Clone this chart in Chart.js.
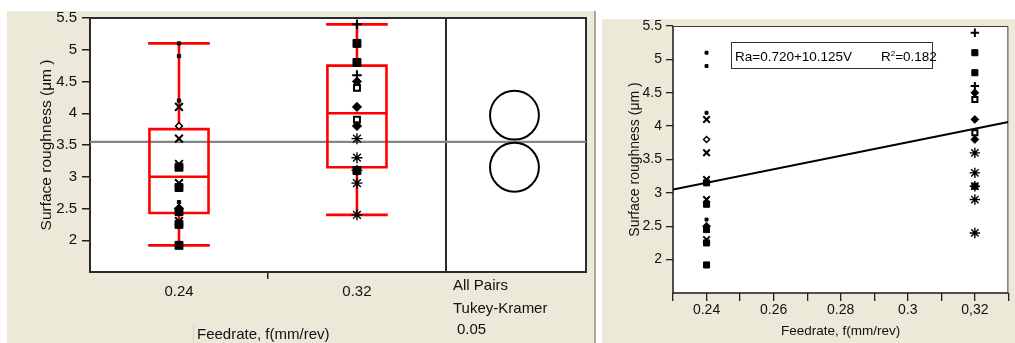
<!DOCTYPE html>
<html>
<head>
<meta charset="utf-8">
<title>Surface roughness vs feed rate</title>
<script src="https://cdn.jsdelivr.net/npm/chart.js@4.4.1/dist/chart.umd.min.js"></script>
<style>
  html, body { margin: 0; padding: 0; background: #fff; width: 1015px; height: 343px; overflow: hidden;
    font-family: "Liberation Sans", Arial, Helvetica, sans-serif; }
  .panel { position: absolute; background: #ECE9D8; }
  #leftPanel { left: 7px; top: 11px; width: 587px; height: 332px; border-right: 2px solid #ABA796; }
  #rightPanel { left: 602px; top: 19px; width: 413px; height: 324px; }
  canvas { position: absolute; top: 0; }
  #boxChart { left: 7px; }
  #fitChart { left: 602px; }
  .txt { position: absolute; color: #111; font-size: 15px; line-height: 15px; white-space: nowrap; }
  #sep { position: absolute; left: 193px; top: 325px; width: 1px; height: 18px; background: #D6D2C2; }
  #fitBox { position: absolute; left: 731px; top: 42px; width: 200px; height: 25px; border: 1px solid #333;
    background: #fff; }
  .fitTxt { position: absolute; color: #000; font-size: 13.5px; line-height: 13.5px; white-space: nowrap; top: 50px; }
  .fitTxt sup { font-size: 8px; vertical-align: 5px; line-height: 0; }
</style>
</head>
<body>
<div class="panel" id="leftPanel"></div>
<div class="panel" id="rightPanel"></div>
<canvas id="boxChart" width="587" height="343"></canvas>
<canvas id="fitChart" width="413" height="343"></canvas>

<div id="sep"></div>
<div class="txt" style="left:197px; top:326px;">Feedrate, f(mm/rev)</div>
<div class="txt" style="left:453px; top:277px;">All Pairs</div>
<div class="txt" style="left:453px; top:300px;">Tukey-Kramer</div>
<div class="txt" style="left:457px; top:321px;">0.05</div>

<div id="fitBox"></div>
<div class="fitTxt" id="fitEq" style="left:735px;"></div>
<div class="fitTxt" id="fitR2" style="left:881px;"></div>

<script>
// Feed rate levels
const feedLabels = ['0.24', '0.32'];
const feedValues = [0.24, 0.32];

// Surface roughness Ra (µm), one inner array per feed rate [0.24, 0.32], split by marker group
const dotRa = [[5.1, 4.9, 4.2, 2.6], []];
const crossRa = [[4.1, 3.6, 3.2, 2.9, 2.3], []];
const hollowDiamondRa = [[3.8], []];
const diamondRa = [[2.5], [4.5, 4.1, 3.8]];
const squareRa = [[3.15, 2.83, 2.45, 2.25, 1.92], [5.1, 4.8, 3.1]];
const plusRa = [[], [5.4, 4.6]];
const openSquareRa = [[], [4.4, 3.9]];
const starRa = [[], [3.6, 3.3, 3.1, 2.9, 2.4]];

// Box plot quantiles per feed rate
const boxQ1 = [2.43, 3.15];
const boxMedian = [3.0, 4.0];
const boxQ3 = [3.75, 4.75];

// Group means and comparison circle radii (µm), grand mean
const groupMean = [3.15, 3.97];
const circleRadius = [0.385, 0.385];
const grandMean = 3.55;

// Axis ticks
const yTicks = [2, 2.5, 3, 3.5, 4, 4.5, 5, 5.5];
const fitTickValues = [0.24, 0.26, 0.28, 0.30, 0.32];
const fitTickLabels = ['0.24', '0.26', '0.28', '0.3', '0,32'];

// Linear fit Ra = a + b·f
const fitIntercept = 0.720;
const fitSlope = 10.125;
const fitR2 = 0.182;

Chart.defaults.font.family = '"Liberation Sans", Arial, Helvetica, sans-serif';
Chart.defaults.color = '#111';
Chart.defaults.animation = false;

// marker look per group: [radius in box view, radius in fit view]
const markerGroups = [
  { ra: dotRa,           style: 'rect',     r: [2.3, 2.1], fill: '#000', bw: 1 },
  { ra: crossRa,         style: 'crossRot', r: [5.5, 4.6], fill: '#000', bw: 2 },
  { ra: hollowDiamondRa, style: 'rectRot',  r: [3.4, 3.0], fill: '#fff', bw: 1.5 },
  { ra: diamondRa,       style: 'rectRot',  r: [4.6, 3.9], fill: '#000', bw: 1 },
  { ra: squareRa,        style: 'rect',     r: [5.6, 4.3], fill: '#000', bw: 1 },
  { ra: plusRa,          style: 'cross',    r: [4.8, 4.2], fill: '#000', bw: 2 },
  { ra: openSquareRa,    style: 'rect',     r: [4.2, 3.6], fill: '#fff', bw: 2 },
  { ra: starRa,          style: 'star',     r: [5.5, 5.2], fill: '#000', bw: 1.4 }
];

function pointsFor(values, xs) {
  const out = [];
  values.forEach((arr, i) => arr.forEach(v => out.push({ x: xs[i], y: v })));
  return out;
}

function markerDatasets(xs, side) {
  return markerGroups.map(g => ({
    type: 'scatter',
    data: pointsFor(g.ra, xs),
    pointStyle: g.style,
    pointRadius: g.r[side],
    pointBackgroundColor: g.fill,
    pointBorderColor: '#000',
    pointBorderWidth: g.bw,
    clip: false,
    order: 0
  }));
}

function groupValues(i) {
  return markerGroups.flatMap(g => g.ra[i]);
}

// Outline of one box with median, whiskers and caps; null y breaks the path
function boxOutline(i) {
  const c = i + 1, w = 0.166;
  const vals = groupValues(i);
  const lo = Math.min(...vals), hi = Math.max(...vals);
  const gap = () => ({ x: c, y: null });
  return [
    { x: c - w, y: boxQ1[i] }, { x: c + w, y: boxQ1[i] }, { x: c + w, y: boxQ3[i] },
    { x: c - w, y: boxQ3[i] }, { x: c - w, y: boxQ1[i] }, gap(),
    { x: c - w, y: boxMedian[i] }, { x: c + w, y: boxMedian[i] }, gap(),
    { x: c, y: boxQ3[i] }, { x: c, y: hi }, gap(),
    { x: c, y: boxQ1[i] }, { x: c, y: lo }, gap(),
    { x: c - w, y: hi }, { x: c + w, y: hi }, gap(),
    { x: c - w, y: lo }, { x: c + w, y: lo }
  ];
}

const boxXMin = 0.5, boxXMax = 3.287, circleX = 2.885, panelDivider = 2.5;

const boxFrame = {
  id: 'boxFrame',
  beforeDraw(chart) {
    const { ctx, chartArea: a } = chart;
    ctx.save();
    ctx.fillStyle = '#fff';
    ctx.fillRect(a.left, a.top, a.width, a.height);
    ctx.restore();
  },
  beforeDatasetsDraw(chart) {
    const { ctx, chartArea: a, scales: { x } } = chart;
    ctx.save();
    ctx.strokeStyle = '#2a2a2a';
    ctx.lineWidth = 2;
    ctx.strokeRect(a.left, a.top, a.width, a.height);
    const xd = Math.round(x.getPixelForValue(panelDivider));
    ctx.beginPath();
    ctx.moveTo(xd, a.top);
    ctx.lineTo(xd, a.bottom);
    ctx.stroke();
    ctx.restore();
  }
};

const redLine = {
  type: 'line', borderColor: '#FF0000', borderWidth: 2.6, pointRadius: 0, fill: false,
  tension: 0, spanGaps: false, borderJoinStyle: 'miter', borderCapStyle: 'square', order: 2
};

new Chart(document.getElementById('boxChart'), {
  type: 'scatter',
  data: {
    datasets: [
      ...markerDatasets([1, 2], 0),
      {
        type: 'scatter',
        data: groupMean.map(m => ({ x: circleX, y: m })),
        pointStyle: 'circle',
        pointRadius: ctx => {
          const ys = ctx.chart.scales.y;
          const i = ctx.dataIndex;
          if (!ys) return 24;
          return Math.abs(ys.getPixelForValue(groupMean[i]) - ys.getPixelForValue(groupMean[i] + circleRadius[i]));
        },
        pointBackgroundColor: 'rgba(0,0,0,0)',
        pointBorderColor: '#000',
        pointBorderWidth: 2,
        clip: false,
        order: 1
      },
      Object.assign({ data: boxOutline(0) }, redLine),
      Object.assign({ data: boxOutline(1) }, redLine),
      {
        type: 'line',
        data: [{ x: boxXMin, y: grandMean }, { x: boxXMax, y: grandMean }],
        borderColor: '#858585', borderWidth: 2.2, pointRadius: 0, fill: false, order: 3
      }
    ]
  },
  options: {
    responsive: false,
    maintainAspectRatio: false,
    events: [],
    layout: { padding: { top: 18, right: 8, left: 0, bottom: 0 } },
    plugins: { legend: { display: false }, tooltip: { enabled: false } },
    scales: {
      x: {
        type: 'linear', min: boxXMin, max: boxXMax,
        afterBuildTicks: s => { s.ticks = [1, 1.5, 2].map(v => ({ value: v })); },
        afterFit: s => { s.height = 71; },
        ticks: {
          callback: v => feedLabels[v - 1] ?? '',
          font: { size: 15 }, padding: 4, maxRotation: 0, autoSkip: false, color: '#111'
        },
        grid: {
          drawOnChartArea: false, tickLength: 7, lineWidth: 1.5,
          color: c => (c.tick && c.tick.value === 1.5) ? '#222' : 'rgba(0,0,0,0)'
        },
        border: { display: false }
      },
      y: {
        type: 'linear', min: 1.5, max: 5.5,
        afterBuildTicks: s => { s.ticks = yTicks.map(v => ({ value: v })); },
        afterFit: s => { s.width = 83; },
        ticks: { callback: v => String(v), font: { size: 15 }, padding: 5, color: '#111' },
        grid: { drawOnChartArea: false, tickLength: 8, lineWidth: 1.5, color: '#222' },
        border: { display: false },
        title: {
          display: true, text: 'Surface roughness (μm )', color: '#111',
          font: { size: 15.5 }, padding: { top: 30, bottom: 0 }
        }
      }
    }
  },
  plugins: [boxFrame]
});

const fitFrame = {
  id: 'fitFrame',
  beforeDraw(chart) {
    const { ctx, chartArea: a } = chart;
    ctx.save();
    ctx.fillStyle = '#fff';
    ctx.fillRect(a.left, a.top, a.width, a.height);
    ctx.restore();
  },
  beforeDatasetsDraw(chart) {
    const { ctx, chartArea: a } = chart;
    ctx.save();
    ctx.strokeStyle = '#3a3a3a';
    ctx.lineWidth = 1;
    ctx.beginPath();
    ctx.moveTo(a.left, a.top + 0.5);
    ctx.lineTo(a.right - 0.5, a.top + 0.5);
    ctx.lineTo(a.right - 0.5, a.bottom);
    ctx.stroke();
    ctx.strokeStyle = '#1a1a1a';
    ctx.lineWidth = 1.5;
    ctx.beginPath();
    ctx.moveTo(a.left, a.top);
    ctx.lineTo(a.left, a.bottom);
    ctx.lineTo(a.right, a.bottom);
    ctx.stroke();
    ctx.restore();
  }
};

const fitXMin = 0.23, fitXMax = 0.33;

new Chart(document.getElementById('fitChart'), {
  type: 'scatter',
  data: {
    datasets: [
      ...markerDatasets(feedValues, 1),
      {
        type: 'line',
        data: [fitXMin, fitXMax].map(f => ({ x: f, y: fitIntercept + fitSlope * f })),
        borderColor: '#000', borderWidth: 2, pointRadius: 0, fill: false, order: 1
      }
    ]
  },
  options: {
    responsive: false,
    maintainAspectRatio: false,
    events: [],
    layout: { padding: { top: 26, right: 2, left: 0, bottom: 0 } },
    plugins: { legend: { display: false }, tooltip: { enabled: false } },
    scales: {
      x: {
        type: 'linear', min: fitXMin, max: fitXMax,
        afterBuildTicks: s => {
          const t = [];
          for (let k = 23; k <= 33; k++) t.push({ value: k / 100 });
          s.ticks = t;
        },
        afterFit: s => { s.height = 50; },
        ticks: {
          callback: v => {
            const idx = fitTickValues.findIndex(f => Math.round(f * 100) === Math.round(v * 100));
            return idx >= 0 ? fitTickLabels[idx] : '';
          },
          font: { size: 14 }, padding: 1, maxRotation: 0, autoSkip: false, color: '#111'
        },
        grid: { drawOnChartArea: false, tickLength: 8, lineWidth: 1.3, color: '#222' },
        border: { display: false },
        title: {
          display: true, text: 'Feedrate, f(mm/rev)', color: '#111',
          font: { size: 13.5 }, padding: { top: 0, bottom: 4 }
        }
      },
      y: {
        type: 'linear', min: 1.5, max: 5.5,
        afterBuildTicks: s => { s.ticks = yTicks.map(v => ({ value: v })); },
        afterFit: s => { s.width = 71; },
        ticks: { callback: v => String(v), font: { size: 14 }, padding: 4, color: '#111' },
        grid: { drawOnChartArea: false, tickLength: 7, lineWidth: 1.3, color: '#222' },
        border: { display: false },
        title: {
          display: true, text: 'Surface roughness (μm )', color: '#111',
          font: { size: 14 }, padding: { top: 25, bottom: 0 }
        }
      }
    }
  },
  plugins: [fitFrame]
});

document.getElementById('fitEq').textContent =
  'Ra=' + fitIntercept.toFixed(3) + '+' + fitSlope.toFixed(3) + 'V';
document.getElementById('fitR2').innerHTML = 'R<sup>2</sup>=' + fitR2.toFixed(3);
</script>
</body>
</html>
